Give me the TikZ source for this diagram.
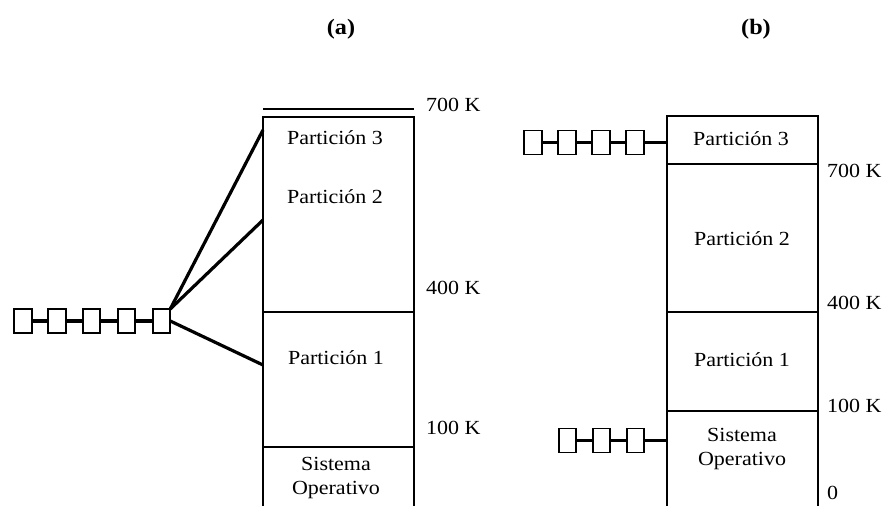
\documentclass[tikz,border=0pt]{standalone}
\usepackage{fontspec}
\setmainfont{Liberation Serif}[FakeStretch=1.1]

\tikzset{
  job/.style={draw, line width=1.6pt, minimum width=17.5pt, minimum height=24pt, inner sep=0pt, outer sep=0pt},
  link/.style={line width=3.2pt},
  wall/.style={line width=1.4pt},
  txt/.style={font=\fontsize{20}{24}\selectfont, inner sep=0pt},
  addr/.style={txt, anchor=west},
  title/.style={font=\bfseries\fontsize{22}{26}\selectfont, inner sep=0pt}
}

\begin{document}
\begin{tikzpicture}[x=1pt, y=-1pt]
  \useasboundingbox (0,0) rectangle (889,506);
  \node[title] (ta) at (341,29) {(a)};
  \node[title] (tb) at (756,29) {(b)};

  % (a) fixed partitions, one queue
  \draw[wall] (263,109) -- (414,109);
  \draw[wall] (263,506) -- (263,117) -- (414,117) -- (414,506);
  \draw[wall] (263,312) -- (414,312);
  \draw[wall] (263,447) -- (414,447);
  \node[txt] (a3) at (335,138) {Partición 3};
  \node[txt] (a2) at (335,197) {Partición 2};
  \node[txt] (a1) at (336,358) {Partición 1};
  \node[txt] (aso) at (336,464) {Sistema};
  \node[txt] (aop) at (336,490) {Operativo};
  \node[addr] (a700) at (426,105) {700 K};
  \node[addr] (a400) at (426,288) {400 K};
  \node[addr] (a100) at (426,428) {100 K};
  \coordinate (ain3) at (263,130);
  \coordinate (ain2) at (263,220);
  \coordinate (ain1) at (263,365);
  \node[job] (qa1) at (23,321) {};
  \node[job] (qa2) at (57,321) {};
  \node[job] (qa3) at (91.5,321) {};
  \node[job] (qa4) at (126.5,321) {};
  \node[job] (qa5) at (161.5,321) {};
  \draw[link] (qa1)--(qa2);
  \draw[link] (qa2)--(qa3);
  \draw[link] (qa3)--(qa4);
  \draw[link] (qa4)--(qa5);
  \draw[link] (qa5.north east)--(ain3);
  \draw[link] (qa5.north east)--(ain2);
  \draw[link] (qa5.east)--(ain1);

  % (b) fixed partitions, one queue per partition
  \draw[wall] (667,506) -- (667,116) -- (818,116) -- (818,506);
  \draw[wall] (667,164) -- (818,164);
  \draw[wall] (667,312) -- (818,312);
  \draw[wall] (667,411) -- (818,411);
  \node[txt] (b3) at (741,139) {Partición 3};
  \node[txt] (b2) at (742,239) {Partición 2};
  \node[txt] (b1) at (742,360) {Partición 1};
  \node[txt] (bso) at (742,435) {Sistema};
  \node[txt] (bop) at (742,461) {Operativo};
  \node[addr] (b700) at (827,171) {700 K};
  \node[addr] (b400) at (827,303) {400 K};
  \node[addr] (b100) at (827,406) {100 K};
  \node[addr] (b0) at (827,493) {0};
  \coordinate (bin3) at (667,142.5);
  \coordinate (bin0) at (667,440.5);
  \node[job] (qb1) at (533,142.5) {};
  \node[job] (qb2) at (567,142.5) {};
  \node[job] (qb3) at (601,142.5) {};
  \node[job] (qb4) at (635,142.5) {};
  \draw[link] (qb1)--(qb2);
  \draw[link] (qb2)--(qb3);
  \draw[link] (qb3)--(qb4);
  \draw[link] (qb4)--(bin3);
  \node[job] (qc1) at (567.5,440.5) {};
  \node[job] (qc2) at (601.5,440.5) {};
  \node[job] (qc3) at (635.5,440.5) {};
  \draw[link] (qc1)--(qc2);
  \draw[link] (qc2)--(qc3);
  \draw[link] (qc3)--(bin0);
\end{tikzpicture}
\end{document}
